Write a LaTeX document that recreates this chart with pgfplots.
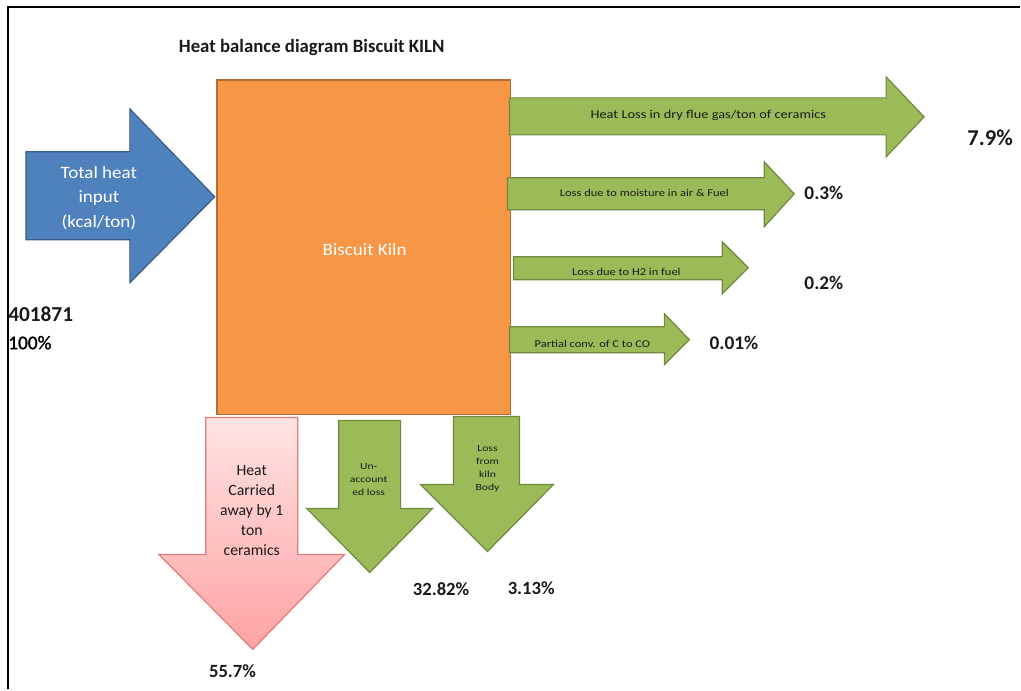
\documentclass[border=0pt]{standalone}
\usepackage{pgfplots}
\pgfplotsset{compat=1.18}
\usepackage{fontspec}
\setmainfont{Carlito}
\newfontfamily\wa[FakeStretch=1.1]{Carlito}
\newfontfamily\wb[FakeStretch=1.2]{Carlito}
\newfontfamily\wc[FakeStretch=1.25]{Carlito}
\definecolor{kiln}{HTML}{F79646}
\definecolor{kilnb}{HTML}{B66D31}
\definecolor{inblue}{HTML}{4F81BD}
\definecolor{inblueb}{HTML}{385D8A}
\definecolor{lossg}{HTML}{9BBB59}
\definecolor{lossgb}{HTML}{71893F}
\definecolor{pinkt}{HTML}{FFE3E3}
\definecolor{pinkb}{HTML}{FFA3A3}
\definecolor{pinkbd}{HTML}{E07B7B}
\definecolor{txt}{HTML}{1A1A1A}
\newcommand{\fs}[2]{\fontsize{#1}{#2}\selectfont}
\begin{document}
\begin{tikzpicture}
\begin{axis}[hide axis, scale only axis, width=765.75pt, height=517.5pt,
  xmin=0, xmax=1021, ymin=0, ymax=690, y dir=reverse, clip=false]
% frame
\addplot[draw=none] coordinates {(0,0)(1021,690)};
\addplot[black, line width=1.5pt] coordinates {(8,690)(8,7)(1021,7)};
% kiln box
\addplot[fill=kiln, draw=kilnb, line width=1.1pt] coordinates {(217,80)(511,80)(511,415)(217,415)} -- cycle;
% input arrow
\addplot[fill=inblue, draw=inblueb, line width=0.9pt] coordinates {(26,152)(130,152)(130,109)(215,197)(130,283)(130,240)(26,240)} -- cycle;
% right loss arrows
\addplot[fill=lossg, draw=lossgb, line width=0.9pt] coordinates {(510,98)(887,98)(887,77)(925,117)(887,157)(887,135)(510,135)} -- cycle;
\addplot[fill=lossg, draw=lossgb, line width=0.9pt] coordinates {(508,178)(765,178)(765,162)(795,194)(765,227)(765,210)(508,210)} -- cycle;
\addplot[fill=lossg, draw=lossgb, line width=0.9pt] coordinates {(514,257)(723,257)(723,242)(749,268)(723,294)(723,280)(514,280)} -- cycle;
\addplot[fill=lossg, draw=lossgb, line width=0.9pt] coordinates {(510,327)(665,327)(665,314)(690,340)(665,365)(665,353)(510,353)} -- cycle;
% down arrows
\addplot[top color=pinkt, bottom color=pinkb, draw=pinkbd, line width=0.9pt] coordinates {(206,418)(298,418)(298,555)(345,555)(253,650)(159,555)(206,555)} -- cycle;
\addplot[fill=lossg, draw=lossgb, line width=0.9pt] coordinates {(339,421)(401,421)(401,509)(433,509)(370,573)(307,509)(339,509)} -- cycle;
\addplot[fill=lossg, draw=lossgb, line width=0.9pt] coordinates {(454,417)(520,417)(520,485)(554,485)(488,552)(421,485)(454,485)} -- cycle;
% texts
\node[font=\bfseries\fs{14.1}{16}, text=txt] at (axis cs:312,48) {Heat balance diagram Biscuit KILN};
\node[font=\wa\fs{13}{18.4}, text=white, align=center] at (axis cs:99,198) {Total heat\\input\\(kcal/ton)};
\node[font=\wa\fs{13}{15}, text=white] at (axis cs:365,250) {Biscuit Kiln};
\node[font=\bfseries\fs{16}{18}, text=txt, anchor=west, inner sep=0pt] at (axis cs:8,315) {401871};
\node[font=\fs{14.5}{16}, text=black, anchor=west, inner sep=0pt] at (axis cs:8,343) {\addfontfeature{FakeBold=1.5}100\%};
\node[font=\wb\fs{9}{11}, text=txt] at (axis cs:709,115) {Heat Loss in dry flue gas/ton of ceramics};
\node[font=\wb\fs{7.8}{9}, text=txt] at (axis cs:645,193) {Loss due to moisture in air \& Fuel};
\node[font=\wb\fs{7.8}{9}, text=txt] at (axis cs:627,272) {Loss due to H2 in fuel};
\node[font=\wb\fs{7.8}{9}, text=txt] at (axis cs:593,344) {Partial conv. of C to CO};
\node[font=\bfseries\fs{17}{19}, text=txt, anchor=west, inner sep=0pt] at (axis cs:968,138) {7.9\%};
\node[font=\bfseries\fs{14.5}{16}, text=txt, anchor=west, inner sep=0pt] at (axis cs:805,193) {0.3\%};
\node[font=\bfseries\fs{14.5}{16}, text=txt, anchor=west, inner sep=0pt] at (axis cs:805,283) {0.2\%};
\node[font=\bfseries\fs{14.5}{16}, text=txt, anchor=west, inner sep=0pt] at (axis cs:710,343) {0.01\%};
\node[font=\fs{11.8}{15}, text=txt, align=center] at (axis cs:252,511) {Heat\\Carried\\away by 1\\ton\\ceramics};
\node[font=\wc\fs{7}{9.75}, text=txt, align=center] at (axis cs:369,480) {Un-\\account\\ed loss};
\node[font=\wc\fs{7}{9.75}, text=txt, align=center] at (axis cs:488,469) {Loss\\from\\kiln\\Body};
\node[font=\bfseries\fs{14}{16}, text=txt, anchor=west, inner sep=0pt] at (axis cs:413,590) {32.82\%};
\node[font=\bfseries\fs{14}{16}, text=txt, anchor=west, inner sep=0pt] at (axis cs:508,589) {3.13\%};
\node[font=\bfseries\fs{14}{16}, text=txt, anchor=west, inner sep=0pt] at (axis cs:209,672) {55.7\%};
\end{axis}
\end{tikzpicture}
\end{document}
